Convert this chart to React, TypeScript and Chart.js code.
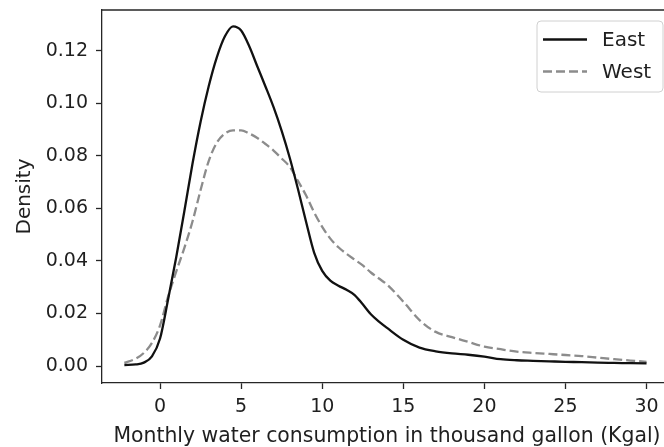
import React, { useEffect, useRef } from 'react';
import { Chart, registerables } from 'chart.js';

Chart.register(...registerables);

// ---------- data ----------
const xValues = [
  -2.2, -1.5, -1, -0.5, 0, 0.5, 1, 1.5, 2, 2.5, 3, 3.5, 4, 4.5, 5, 5.5, 6, 6.5, 7, 7.5,
  8, 8.5, 9, 9.5, 10, 10.5, 11, 11.5, 12, 12.5, 13, 13.5, 14, 15, 16, 17, 18, 19, 20,
  21, 22, 23, 24, 25, 26, 27, 28, 29, 30,
];
const eastDensity = [
  0.0004, 0.0006, 0.0013, 0.0037, 0.0105, 0.0255, 0.0415, 0.059, 0.077, 0.093, 0.1065, 0.1175,
  0.1255, 0.1293, 0.1277, 0.1217, 0.114, 0.1064, 0.0985, 0.0895, 0.0792, 0.0675, 0.055, 0.0432,
  0.0362, 0.0325, 0.0306, 0.029, 0.027, 0.0235, 0.0197, 0.0169, 0.0145, 0.01, 0.007, 0.0056,
  0.0048, 0.0043, 0.0036, 0.0026, 0.0022, 0.002, 0.0018, 0.0016, 0.0015, 0.0013, 0.0012,
  0.0011, 0.001,
];
const westDensity = [
  0.0012, 0.0028, 0.005, 0.0088, 0.0155, 0.0265, 0.036, 0.045, 0.055, 0.067, 0.078, 0.085,
  0.0885, 0.0897, 0.0897, 0.0885, 0.0868, 0.0845, 0.082, 0.079, 0.0758, 0.0705, 0.065, 0.0585,
  0.053, 0.0485, 0.0452, 0.0427, 0.0405, 0.0383, 0.0356, 0.0333, 0.031, 0.0245, 0.0175, 0.013,
  0.011, 0.0092, 0.0074, 0.0064, 0.0055, 0.005, 0.0046, 0.0042, 0.0038, 0.0032, 0.0026,
  0.0021, 0.0016,
];
const seriesNames = ['East', 'West'];
const xTickValues = [0, 5, 10, 15, 20, 25, 30];
const yTickValues = [0, 0.02, 0.04, 0.06, 0.08, 0.1, 0.12];
const xTitle = 'Monthly water consumption in thousand gallon (Kgal)';
const yTitle = 'Density';

// ---------- style ----------
const FONT = "'DejaVu Sans', sans-serif";
const TICK_SIZE = 19;
const LABEL_SIZE = 20;
const XTITLE_SIZE = 20.4;
const TEXT = '#1f1f1f';
const SPINE = '#262626';
const EAST_COLOR = '#111111';
const WEST_COLOR = '#8c8c8c';
const WEST_DASH = [9, 4];

const framePlugin = {
  id: 'frameAndLegend',
  afterDraw(chart: any) {
    const { ctx, chartArea: a } = chart;
    ctx.save();
    // top & right spines
    ctx.strokeStyle = SPINE;
    ctx.lineWidth = 1.3;
    ctx.beginPath();
    ctx.moveTo(a.left, a.top);
    ctx.lineTo(a.right, a.top);
    ctx.lineTo(a.right, a.bottom);
    ctx.stroke();

    // legend box (upper right)
    const boxR = a.right - 9;
    const boxL = boxR - 126;
    const boxT = a.top + 11;
    const boxB = boxT + 71;
    const r = 4;
    ctx.beginPath();
    ctx.moveTo(boxL + r, boxT);
    ctx.lineTo(boxR - r, boxT);
    ctx.quadraticCurveTo(boxR, boxT, boxR, boxT + r);
    ctx.lineTo(boxR, boxB - r);
    ctx.quadraticCurveTo(boxR, boxB, boxR - r, boxB);
    ctx.lineTo(boxL + r, boxB);
    ctx.quadraticCurveTo(boxL, boxB, boxL, boxB - r);
    ctx.lineTo(boxL, boxT + r);
    ctx.quadraticCurveTo(boxL, boxT, boxL + r, boxT);
    ctx.closePath();
    ctx.fillStyle = 'rgba(255,255,255,0.8)';
    ctx.fill();
    ctx.strokeStyle = '#d0d0d0';
    ctx.lineWidth = 1;
    ctx.stroke();

    const rows = [
      { name: seriesNames[0], color: EAST_COLOR, dash: [] as number[], y: boxT + 18.5 },
      { name: seriesNames[1], color: WEST_COLOR, dash: WEST_DASH, y: boxT + 50.5 },
    ];
    ctx.font = `${LABEL_SIZE}px ${FONT}`;
    ctx.textBaseline = 'middle';
    ctx.textAlign = 'left';
    for (const row of rows) {
      ctx.strokeStyle = row.color;
      ctx.lineWidth = 2.4;
      ctx.setLineDash(row.dash);
      ctx.beginPath();
      ctx.moveTo(boxL + 6, row.y);
      ctx.lineTo(boxL + 50, row.y);
      ctx.stroke();
      ctx.setLineDash([]);
      ctx.fillStyle = TEXT;
      ctx.fillText(row.name, boxL + 65, row.y + 1);
    }
    ctx.restore();
  },
};

export default function App() {
  const ref = useRef<HTMLCanvasElement | null>(null);

  useEffect(() => {
    document.body.style.overflow = 'hidden';
    document.documentElement.style.overflow = 'hidden';
    const canvas = ref.current;
    if (!canvas) return;
    Chart.defaults.font.family = FONT;
    Chart.defaults.color = TEXT;

    const chart = new Chart(canvas, {
      type: 'line',
      data: {
        datasets: [
          {
            label: seriesNames[0],
            data: xValues.map((x, i) => ({ x, y: eastDensity[i] })),
            borderColor: EAST_COLOR,
            borderWidth: 2.3,
            pointRadius: 0,
            fill: false,
            cubicInterpolationMode: 'monotone',
          },
          {
            label: seriesNames[1],
            data: xValues.map((x, i) => ({ x, y: westDensity[i] })),
            borderColor: WEST_COLOR,
            borderWidth: 2.3,
            borderDash: WEST_DASH,
            pointRadius: 0,
            fill: false,
            cubicInterpolationMode: 'monotone',
          },
        ],
      },
      options: {
        animation: false,
        responsive: false,
        devicePixelRatio: 1,
        layout: { padding: { top: 10, left: 0, right: 8, bottom: 0 } },
        plugins: {
          legend: { display: false },
          tooltip: { enabled: false },
        },
        scales: {
          x: {
            type: 'linear',
            min: -3.58,
            max: 31.57,
            afterBuildTicks: (axis: any) => {
              axis.ticks = xTickValues.map((v) => ({ value: v }));
            },
            afterFit: (scale: any) => {
              scale.height = 64;
              scale.paddingLeft = 0;
              scale.paddingRight = 0;
            },
            ticks: {
              padding: 7,
              color: TEXT,
              font: { size: TICK_SIZE, family: FONT },
              callback: (v: any) => String(v),
              maxRotation: 0,
              autoSkip: false,
            },
            grid: {
              display: true,
              drawOnChartArea: false,
              drawTicks: true,
              tickLength: 6,
              tickColor: SPINE,
              tickWidth: 1.3,
            },
            border: { display: true, color: SPINE, width: 1.3 },
            title: {
              display: true,
              text: xTitle,
              color: TEXT,
              font: { size: XTITLE_SIZE, family: FONT },
              padding: { top: 0, bottom: -2 },
            },
          },
          y: {
            type: 'linear',
            min: -0.00645,
            max: 0.1355,
            afterBuildTicks: (axis: any) => {
              axis.ticks = yTickValues.map((v) => ({ value: v }));
            },
            afterFit: (scale: any) => {
              scale.width = 102;
              scale.paddingTop = 0;
              scale.paddingBottom = 0;
            },
            ticks: {
              padding: 8,
              color: TEXT,
              font: { size: TICK_SIZE, family: FONT },
              callback: (v: any) => Number(v).toFixed(2),
              autoSkip: false,
            },
            grid: {
              display: true,
              drawOnChartArea: false,
              drawTicks: true,
              tickLength: 6,
              tickColor: SPINE,
              tickWidth: 1.3,
            },
            border: { display: true, color: SPINE, width: 1.3 },
            title: {
              display: true,
              text: yTitle,
              color: TEXT,
              font: { size: LABEL_SIZE, family: FONT },
              padding: { top: 13, bottom: 0 },
            },
          },
        },
      },
      plugins: [framePlugin],
    } as any);

    return () => chart.destroy();
  }, []);

  return (
    <div
      style={{
        position: 'fixed',
        left: 0,
        top: 0,
        width: 664,
        height: 447,
        overflow: 'hidden',
        background: '#fff',
      }}
    >
      <canvas ref={ref} width={680} height={447} style={{ display: 'block', width: 680, height: 447 }} />
    </div>
  );
}
